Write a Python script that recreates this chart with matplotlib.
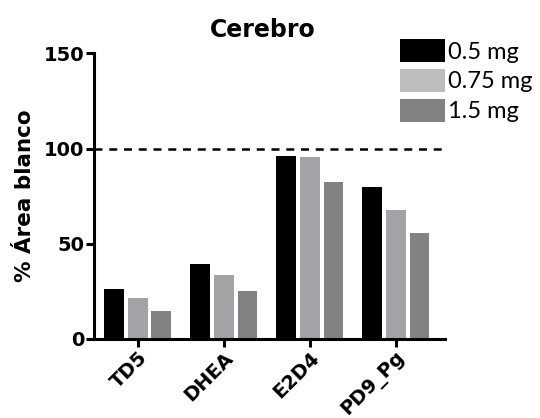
import matplotlib
matplotlib.use("Agg")
import matplotlib.pyplot as plt
from matplotlib.patches import Patch
import numpy as np

categories = ["TD5", "DHEA", "E2D4", "PD9_Pg"]
series_names = ["0.5 mg", "0.75 mg", "1.5 mg"]
vals_05 = [26.1, 39.4, 96.2, 79.6]
vals_075 = [21.4, 33.8, 95.4, 67.9]
vals_15 = [14.7, 25.3, 82.3, 55.5]
ref_line = 100
yticks = [0, 50, 100, 150]

bar_colors = ["#000000", "#A3A3A7", "#828282"]
legend_colors = ["#000000", "#BDBDBD", "#828282"]

W, H = 540, 418
fig = plt.figure(figsize=(W / 100, H / 100), dpi=100)
ax = fig.add_axes([94 / W, 1 - 339 / H, (445 - 94) / W, (339 - 53.3) / H])

x = np.arange(len(categories))
offsets = [-0.277, 0.0, 0.273]
width = 0.227
for vals, off, c in zip([vals_05, vals_075, vals_15], offsets, bar_colors):
    ax.bar(x + off, vals, width=width, color=c, edgecolor="none", zorder=2)

ax.set_xlim(-0.509, 3.572)
ax.set_ylim(0, 150)
ax.axhline(ref_line, color="black", lw=1.8, ls=(0, (3.2, 2.7)), zorder=3)

for s in ["top", "right"]:
    ax.spines[s].set_visible(False)
for s in ["left", "bottom"]:
    ax.spines[s].set_linewidth(2.2)
ax.set_yticks(yticks)
ax.set_yticklabels([str(v) for v in yticks], fontsize=14, fontweight="bold", family="DejaVu Sans")
ax.set_xticks(x)
ax.set_xticklabels(categories, fontsize=14, fontweight="bold", family="DejaVu Sans",
                   rotation=45, ha="right", rotation_mode="anchor")
ax.tick_params(axis="both", length=5.5, width=2.2)
ax.tick_params(axis="y", pad=1.5)
ax.tick_params(axis="x", pad=1)

ax.set_ylabel("% Área blanco", fontsize=15.5, fontweight="bold", family="DejaVu Sans", labelpad=6)
fig.text(262.5 / W, 1 - 37 / H, "Cerebro", fontsize=17, fontweight="bold",
         family="DejaVu Sans", ha="center", va="baseline")

handles = [Patch(facecolor=c, edgecolor="none") for c in legend_colors]
fs = 17
em = fs * 100 / 72
fig.legend(handles, series_names, loc="upper left",
           bbox_to_anchor=(400 / W, 1 - 39.3 / H), bbox_transform=fig.transFigure,
           frameon=False, borderpad=0, borderaxespad=0,
           handlelength=45 / em, handleheight=26 / em, handletextpad=3 / em,
           labelspacing=6.4 / em, prop={"family": "Lato", "size": fs})

fig.savefig("out.png", dpi=100)
